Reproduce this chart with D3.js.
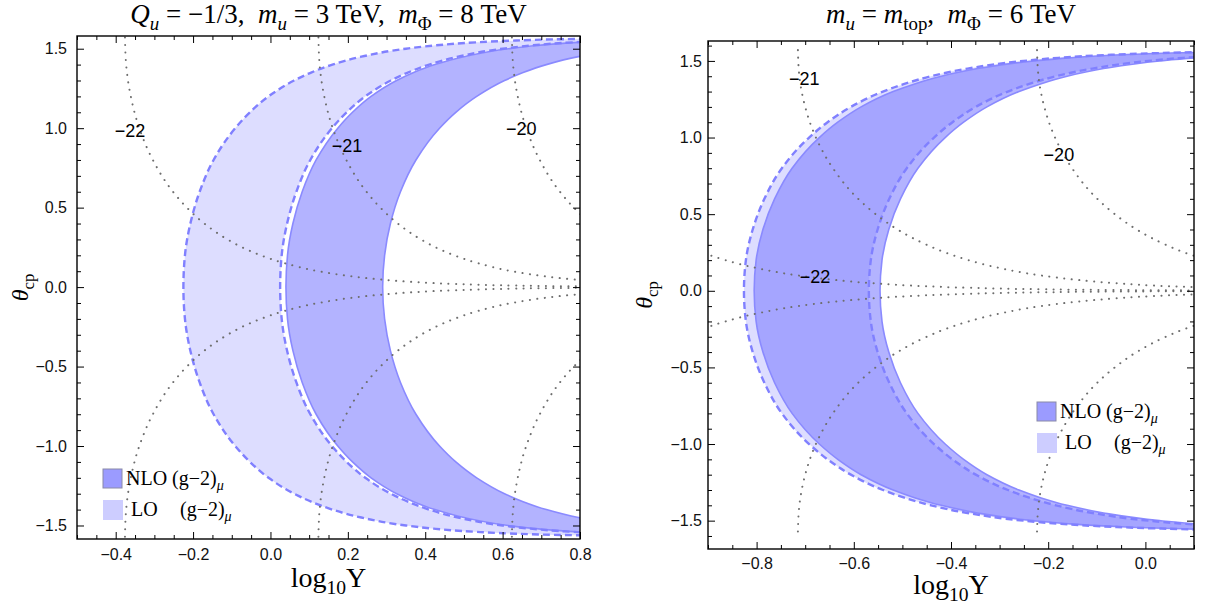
<!DOCTYPE html>
<html>
<head>
<meta charset="utf-8">
<script src="https://cdn.jsdelivr.net/npm/d3@7"></script>
<style>
  body { margin: 0; background: #fff; }
  .tick text { font-family: "Liberation Sans", Arial, sans-serif; font-size: 16px; fill: #111; }
  .serif { font-family: "Liberation Serif", "Times New Roman", serif; fill: #000; white-space: pre; }
  .clabel { font-family: "Liberation Sans", Arial, sans-serif; font-size: 18px; fill: #000; }
</style>
</head>
<body>
<svg id="chart" width="1214" height="605"></svg>
<script>
// theta grid (upper half) for the (g-2) bands, mirrored for theta < 0
const bandTheta = [0, 0.2, 0.4, 0.6, 0.8, 1.0, 1.1, 1.2, 1.3, 1.35, 1.4, 1.45, 1.5, 1.52, 1.54, 1.55, 1.56, 1.565];

// left panel: log10 Y on the band edges
const leftLoMin  = [-0.225, -0.221, -0.207, -0.183, -0.147, -0.091, -0.053, -0.005, 0.061, 0.105, 0.160, 0.235, 0.350, 0.422, 0.531, 0.616, 0.758, 0.893];
const leftLoMax  = [0.025, 0.029, 0.043, 0.067, 0.103, 0.159, 0.197, 0.245, 0.311, 0.355, 0.410, 0.485, 0.600, 0.672, 0.781, 0.866, 1.008, 1.143];
const leftNloMin = [0.040, 0.044, 0.058, 0.082, 0.118, 0.174, 0.212, 0.260, 0.326, 0.370, 0.425, 0.500, 0.615, 0.687, 0.796, 0.881, 1.023, 1.158];
const leftNloMax = [0.290, 0.295, 0.310, 0.336, 0.376, 0.437, 0.479, 0.533, 0.605, 0.653, 0.713, 0.796, 0.923, 1.002, 1.121, 1.215, 1.372, 1.520];

// right panel
const rightLoMin  = [-0.826, -0.822, -0.808, -0.784, -0.748, -0.692, -0.654, -0.606, -0.540, -0.496, -0.441, -0.366, -0.251, -0.179, -0.070, 0.015, 0.157, 0.292];
const rightNloMin = [-0.805, -0.801, -0.787, -0.763, -0.727, -0.671, -0.633, -0.585, -0.519, -0.475, -0.420, -0.345, -0.230, -0.158, -0.049, 0.036, 0.178, 0.313];
const rightLoMax  = [-0.569, -0.565, -0.551, -0.527, -0.491, -0.435, -0.397, -0.349, -0.283, -0.239, -0.184, -0.109, 0.006, 0.078, 0.187, 0.272, 0.414, 0.549];
const rightNloMax = [-0.546, -0.542, -0.528, -0.504, -0.468, -0.412, -0.374, -0.326, -0.260, -0.216, -0.161, -0.086, 0.029, 0.101, 0.210, 0.295, 0.437, 0.572];

// dotted contours (log10 of EDM), theta grid from the top down to ~0
const contourTheta = [1.5708, 1.4, 1.2, 1.0, 0.8, 0.6, 0.5, 0.4, 0.3, 0.25, 0.2, 0.15, 0.1, 0.07, 0.05, 0.03, 0.02, 0.01, 0.005, 0.002];
const contourLevels = [-22, -21, -20];
const leftContours = [
  [-0.376, -0.373, -0.361, -0.339, -0.304, -0.252, -0.216, -0.171, -0.111, -0.073, -0.025, 0.037, 0.124, 0.202, 0.275, 0.385, 0.473, 0.624, 0.775, 0.973],
  [0.124, 0.127, 0.139, 0.161, 0.196, 0.248, 0.284, 0.329, 0.389, 0.427, 0.475, 0.537, 0.624, 0.702, 0.775, 0.885, 0.973],
  [0.624, 0.627, 0.639, 0.661, 0.696, 0.748, 0.784, 0.829, 0.889, 0.927]
];
const rightContours = [
  [-1.215, -1.212, -1.200, -1.178, -1.143, -1.091, -1.055, -1.010, -0.950, -0.912, -0.864, -0.802, -0.715, -0.637, -0.564, -0.454, -0.366, -0.215, -0.064, 0.134],
  [-0.715, -0.712, -0.700, -0.678, -0.643, -0.591, -0.555, -0.510, -0.450, -0.412, -0.364, -0.302, -0.215, -0.137, -0.064, 0.046, 0.134],
  [-0.223, -0.220, -0.208, -0.186, -0.151, -0.099, -0.063, -0.018, 0.042, 0.080, 0.128]
];
// contour label positions [log10 Y, theta]
const leftLabelPos  = [[-0.363, 0.988], [0.198, 0.894], [0.648, 1.0]];
const rightLabelPos = [[-0.680, 0.095], [-0.702, 1.386], [-0.178, 0.890]];

const leftXTicks = [-0.4, -0.2, 0.0, 0.2, 0.4, 0.6, 0.8];
const rightXTicks = [-0.8, -0.6, -0.4, -0.2, 0.0];
const yTicks = [-1.5, -1.0, -0.5, 0.0, 0.5, 1.0, 1.5];

const svg = d3.select('#chart');

/**
 * Appends text made of (italic / subscript) parts to a text element
 */
function richText(textSel, parts, size) {
  let shift = 0;
  parts.forEach(p => {
    const ts = textSel.append('tspan').text(p.t);
    const target = p.sub ? size * 0.25 : 0;
    if (target !== shift) {
      ts.attr('dy', target - shift);
      shift = target;
    }
    if (p.sub) ts.attr('font-size', size * 0.7);
    if (p.it) ts.attr('font-style', 'italic');
  });
}

/**
 * Builds the mirrored band rows [{t, a, b}] for theta in [-max, max]
 */
function bandRows(a, b) {
  const pos = bandTheta.map((t, i) => ({t: t, a: a[i], b: b[i]}));
  const neg = pos.slice(1).map(d => ({t: -d.t, a: d.a, b: d.b})).reverse();
  return neg.concat(pos);
}

function drawPanel(p) {
  const x = d3.scaleLinear().domain(p.xDomain).range([p.left, p.right]);
  const y = d3.scaleLinear().domain(p.yDomain).range([p.bottom, p.top]);
  const g = svg.append('g').attr('id', p.id);

  g.append('clipPath').attr('id', `${p.id}-clip`)
    .append('rect')
    .attr('x', p.left).attr('y', p.top)
    .attr('width', p.right - p.left).attr('height', p.bottom - p.top);
  const plot = g.append('g').attr('clip-path', `url(#${p.id}-clip)`);

  const area = d3.area()
    .y(d => y(d.t)).x0(d => x(d.a)).x1(d => x(d.b))
    .curve(d3.curveMonotoneY);
  const edge = key => d3.line()
    .y(d => y(d.t)).x(d => x(d[key]))
    .curve(d3.curveMonotoneY);

  const lo = bandRows(p.loMin, p.loMax);
  const nlo = bandRows(p.nloMin, p.nloMax);

  plot.append('path').datum(lo).attr('d', area)
    .attr('fill', '#8080ff').attr('fill-opacity', 0.27).attr('stroke', 'none');
  plot.append('path').datum(nlo).attr('d', area)
    .attr('fill', '#8080ff').attr('fill-opacity', 0.6).attr('stroke', 'none');

  ['a', 'b'].forEach(k => {
    plot.append('path').datum(nlo).attr('d', edge(k))
      .attr('fill', 'none').attr('stroke', '#8a8aff').attr('stroke-width', 1.6);
  });
  ['a', 'b'].forEach(k => {
    plot.append('path').datum(lo).attr('d', edge(k))
      .attr('fill', 'none').attr('stroke', '#8080ff').attr('stroke-width', 2.4)
      .attr('stroke-dasharray', '7,4');
  });

  // dotted contours, upper and lower branch
  const cline = d3.line().x(d => x(d[0])).y(d => y(d[1])).curve(d3.curveMonotoneY);
  p.contours.forEach(vals => {
    const upper = vals.map((v, i) => [v, contourTheta[i]]);
    const lower = upper.map(d => [d[0], -d[1]]);
    [upper, lower].forEach(pts => {
      plot.append('path').datum(pts).attr('d', cline)
        .attr('fill', 'none').attr('stroke', '#6e6e6e').attr('stroke-width', 2)
        .attr('stroke-linecap', 'round').attr('stroke-dasharray', '0.1,7.4');
    });
  });

  p.labelPos.forEach((d, i) => {
    plot.append('text').attr('class', 'clabel')
      .attr('x', x(d[0])).attr('y', y(d[1]))
      .attr('text-anchor', 'middle').attr('dy', '0.36em')
      .text(d3.format('d')(p.labelLevels[i]));
  });

  // frame ticks (pointing inward)
  const fmt = d3.format('.1f');
  const xMinor = d3.range(-2, 2, 0.05).map(v => +v.toFixed(2))
    .filter(v => v >= p.xDomain[0] && v <= p.xDomain[1] && !p.xTicks.some(t => Math.abs(t - v) < 1e-6));
  const yMinor = d3.range(-1.6, 1.65, 0.1).map(v => +v.toFixed(2))
    .filter(v => v >= p.yDomain[0] && v <= p.yDomain[1] && !yTicks.some(t => Math.abs(t - v) < 1e-6));

  const axes = [
    [d3.axisBottom, x, `translate(0,${p.bottom})`, true, p.xTicks, xMinor, p.xPad],
    [d3.axisTop, x, `translate(0,${p.top})`, false, p.xTicks, xMinor, 0],
    [d3.axisLeft, y, `translate(${p.left},0)`, true, yTicks, yMinor, p.yPad],
    [d3.axisRight, y, `translate(${p.right},0)`, false, yTicks, yMinor, 0]
  ];
  axes.forEach(([axisFn, scale, tr, labelled, major, minor, pad]) => {
    g.append('g').attr('transform', tr)
      .call(axisFn(scale).tickValues(major).tickSizeInner(-7).tickSizeOuter(0)
        .tickPadding(pad).tickFormat(labelled ? fmt : ''))
      .call(a => a.select('.domain').remove());
    g.append('g').attr('transform', tr)
      .call(axisFn(scale).tickValues(minor).tickSizeInner(-4).tickSizeOuter(0).tickFormat(''))
      .call(a => a.select('.domain').remove());
  });

  g.append('rect')
    .attr('x', p.left).attr('y', p.top)
    .attr('width', p.right - p.left).attr('height', p.bottom - p.top)
    .attr('fill', 'none').attr('stroke', '#000').attr('stroke-width', 1.4);

  // titles and axis labels
  richText(g.append('text').attr('class', 'serif').attr('font-size', 27)
    .attr('x', (p.left + p.right) / 2).attr('y', 23).attr('text-anchor', 'middle'), p.title, 27);
  richText(g.append('text').attr('class', 'serif').attr('font-size', 28)
    .attr('x', (p.left + p.right) / 2).attr('y', p.xLabelY).attr('text-anchor', 'middle'),
    [{t: 'log'}, {t: '10', sub: true}, {t: 'Y'}], 28);
  richText(g.append('text').attr('class', 'serif').attr('font-size', 24)
    .attr('transform', `translate(${p.yLabelX},${(p.top + p.bottom) / 2}) rotate(-90)`)
    .attr('text-anchor', 'middle'),
    [{t: 'θ', it: true}, {t: 'cp', sub: true}], 24);

  // legend
  const lg = g.append('g');
  lg.append('rect').attr('x', p.legend[0]).attr('y', p.legend[1]).attr('width', 19).attr('height', 19)
    .attr('fill', '#9b9bff').attr('stroke', '#8a8aa8').attr('stroke-width', 1);
  lg.append('rect').attr('x', p.legend[0]).attr('y', p.legend[1] + 31).attr('width', 20).attr('height', 20)
    .attr('fill', '#cdcdff');
  richText(lg.append('text').attr('class', 'serif').attr('font-size', 20)
    .attr('x', p.legend[0] + 23).attr('y', p.legend[1] + 16),
    [{t: 'NLO (g−2)'}, {t: 'μ', it: true, sub: true}], 20);
  lg.append('text').attr('class', 'serif').attr('font-size', 20)
    .attr('x', p.legend[0] + 28).attr('y', p.legend[1] + 47).text('LO');
  richText(lg.append('text').attr('class', 'serif').attr('font-size', 20)
    .attr('x', p.legend[0] + 77).attr('y', p.legend[1] + 47),
    [{t: '(g−2)'}, {t: 'μ', it: true, sub: true}], 20);
}

drawPanel({
  id: 'left',
  left: 77, right: 580, top: 36, bottom: 539,
  xDomain: [-0.5, 0.8], yDomain: [-1.585, 1.58],
  xTicks: leftXTicks, xPad: 10, yPad: 10,
  loMin: leftLoMin, loMax: leftLoMax, nloMin: leftNloMin, nloMax: leftNloMax,
  contours: leftContours, labelPos: leftLabelPos, labelLevels: contourLevels,
  title: [{t: 'Q', it: true}, {t: 'u', it: true, sub: true}, {t: ' = −1/3,  '},
          {t: 'm', it: true}, {t: 'u', it: true, sub: true}, {t: ' = 3 TeV,  '},
          {t: 'm', it: true}, {t: 'Φ', sub: true}, {t: ' = 8 TeV'}],
  xLabelY: 587, yLabelX: 28,
  legend: [103, 469]
});

drawPanel({
  id: 'right',
  left: 708, right: 1194, top: 41, bottom: 549,
  xDomain: [-0.9, 0.1], yDomain: [-1.685, 1.63],
  xTicks: rightXTicks, xPad: 9, yPad: 6,
  loMin: rightLoMin, loMax: rightLoMax, nloMin: rightNloMin, nloMax: rightNloMax,
  contours: rightContours, labelPos: rightLabelPos, labelLevels: contourLevels,
  title: [{t: 'm', it: true}, {t: 'u', it: true, sub: true}, {t: ' = '},
          {t: 'm', it: true}, {t: 'top', sub: true}, {t: ',  '},
          {t: 'm', it: true}, {t: 'Φ', sub: true}, {t: ' = 6 TeV'}],
  xLabelY: 594, yLabelX: 652,
  legend: [1037, 402]
});
</script>
</body>
</html>
